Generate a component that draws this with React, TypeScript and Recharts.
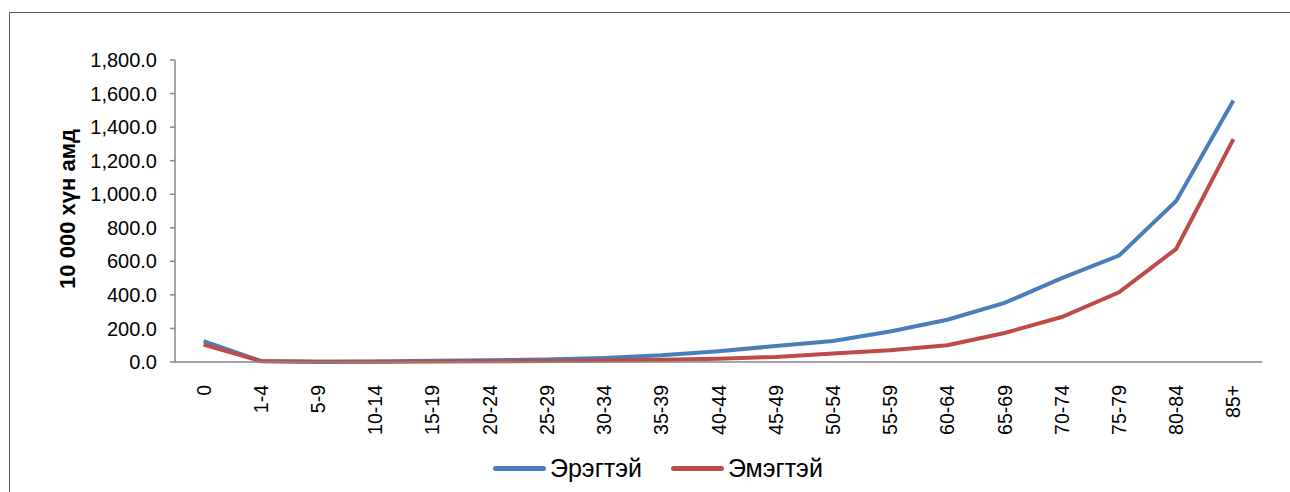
import React from "react";
import { CartesianGrid, Line, LineChart, XAxis, YAxis } from "recharts";

const AGE_GROUPS = [
  "0", "1-4", "5-9", "10-14", "15-19", "20-24", "25-29", "30-34", "35-39", "40-44",
  "45-49", "50-54", "55-59", "60-64", "65-69", "70-74", "75-79", "80-84", "85+",
];
const MALE = [124, 6, 2, 3, 7, 10, 15, 24, 40, 64, 95, 125, 182, 252, 352, 500, 634, 960, 1558];
const FEMALE = [104, 5, 1.5, 2, 3, 4, 6, 9, 13, 20, 30, 50, 70, 100, 173, 268, 415, 674, 1328];
const Y_TICKS = [0, 200, 400, 600, 800, 1000, 1200, 1400, 1600, 1800];

const SERIES = [
  { key: "male", name: "Эрэгтэй", color: "#4A7EBB" },
  { key: "female", name: "Эмэгтэй", color: "#BE4B48" },
];

const data = AGE_GROUPS.map((age, i) => ({ age, male: MALE[i], female: FEMALE[i] }));

const FONT = "'Liberation Sans', Arial, sans-serif";
const AXIS = "#868686";

const fmt = (v: number) =>
  v.toLocaleString("en-US", { minimumFractionDigits: 1, maximumFractionDigits: 1 });

function AgeTick(props: any) {
  const { x, y, payload } = props;
  return (
    <text
      x={0}
      y={0}
      transform={`translate(${x},${y + 15}) rotate(-90)`}
      textAnchor="end"
      dy="0.36em"
      fontSize={19.5}
      fontFamily={FONT}
      fill="#000"
    >
      {payload.value}
    </text>
  );
}

export default function App() {
  return (
    <div
      style={{
        position: "absolute",
        left: 0,
        top: 0,
        width: 1290,
        height: 492,
        overflow: "hidden",
        background: "#fff",
        fontFamily: FONT,
      }}
    >
      <div
        style={{
          position: "absolute",
          left: 9,
          top: 12,
          width: 1400,
          height: 600,
          borderLeft: "1.5px solid #595959",
          borderTop: "1.5px solid #595959",
        }}
      />
      <div
        style={{
          position: "absolute",
          left: 68,
          top: 209,
          transform: "translate(-50%, -50%) rotate(-90deg)",
          fontSize: 22,
          fontWeight: "bold",
          whiteSpace: "nowrap",
          color: "#000",
        }}
      >
        10 000 хүн амд
      </div>
      <div style={{ position: "absolute", left: 0, top: 0 }}>
        <LineChart width={1290} height={492} data={data} margin={{ top: 60, right: 28, left: 0, bottom: 0 }}>
          <CartesianGrid vertical={false} horizontal={false} />
          <XAxis
            dataKey="age"
            interval={0}
            height={130}
            padding={{ left: 28.6, right: 28.6 }}
            tickLine={false}
            axisLine={{ stroke: AXIS, strokeWidth: 1.5 }}
            tick={<AgeTick />}
          />
          <YAxis
            width={175}
            domain={[0, 1800]}
            ticks={Y_TICKS}
            tickFormatter={fmt}
            tickSize={5}
            tickMargin={13}
            axisLine={{ stroke: AXIS, strokeWidth: 1.5 }}
            tickLine={{ stroke: AXIS, strokeWidth: 1.5 }}
            tick={{ fill: "#000", fontSize: 20, fontFamily: FONT }}
          />
          {SERIES.map((s) => (
            <Line
              key={s.key}
              type="linear"
              dataKey={s.key}
              name={s.name}
              stroke={s.color}
              strokeWidth={4}
              dot={false}
              isAnimationActive={false}
            />
          ))}
        </LineChart>
      </div>
      <div
        style={{
          position: "absolute",
          left: 493,
          top: 453,
          display: "flex",
          alignItems: "center",
          fontSize: 25,
          color: "#000",
        }}
      >
        {SERIES.map((s, i) => (
          <div key={s.key} style={{ display: "flex", alignItems: "center", marginRight: i === 0 ? 29 : 0 }}>
            <div style={{ width: 53, height: 5, borderRadius: 3, background: s.color, marginRight: 4 }} />
            <span style={{ lineHeight: "30px" }}>{s.name}</span>
          </div>
        ))}
      </div>
    </div>
  );
}
